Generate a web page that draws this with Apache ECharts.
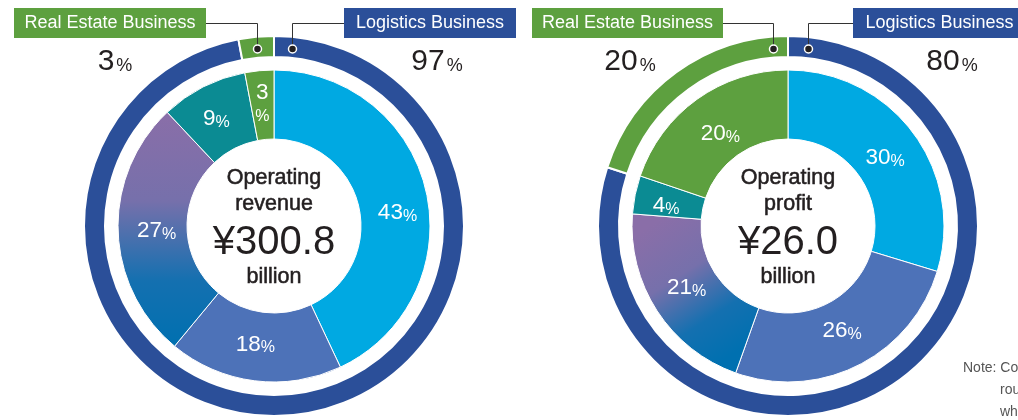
<!DOCTYPE html>
<html>
<head>
<meta charset="utf-8">
<script src="https://cdn.jsdelivr.net/npm/echarts@6/dist/echarts.min.js"></script>
<style>
  html, body { margin: 0; padding: 0; background: #ffffff; }
  #chart { width: 1018px; height: 420px; }
</style>
</head>
<body>
<div id="chart"></div>
<script>
// ---- data -------------------------------------------------------------
const segmentNames = ['Logistics Business', 'Real Estate Business'];
const revenueSegmentShare = [97, 3];     // outer ring, operating revenue (%)
const profitSegmentShare = [80, 20];     // outer ring, operating profit (%)
const revenueBreakdown = [43, 18, 27, 9, 3];   // inner donut, operating revenue (%)
const profitBreakdown = [30, 26, 21, 4, 20];   // inner donut, operating profit (%)
const centerCaptions = [['Operating', 'revenue'], ['Operating', 'profit']];
const centerTotals = ['¥300.8', '¥26.0'];
const centerUnit = 'billion';
const noteLines = ['Note: Composition ratios are', 'rounded to the nearest', 'whole number.'];

// ---- styling ----------------------------------------------------------
const FONT = '"Liberation Sans", Arial, Helvetica, sans-serif';
const INK = '#231f20';
const NAVY = '#2b4f99';
const GREEN = '#5da03f';
const SKY = '#00a9e2';
const BLUE = '#4d72b8';
const TEAL = '#0b8b93';

const charts = [
  {
    center: [274, 226],
    ring: revenueSegmentShare,
    inner: revenueBreakdown,
    gradient: [0, 0, 0, 1],
    labelNudge: [[2, 15], [-3, -4], [7, 2], [-1, 5], [0, 2]],
    greenBox: [14, 206], blueBox: [344, 516],
    greenDot: 257, blueDot: 292,
    pctX: [115, 437]
  },
  {
    center: [788, 226],
    ring: profitSegmentShare,
    inner: profitBreakdown,
    gradient: [0.1, 0.1, 0.75, 0.9],
    labelNudge: [[-3, 7], [-2, -5], [3, -5], [0, 6], [5, 10]],
    greenBox: [532, 723], blueBox: [853, 1026],
    greenDot: 773, blueDot: 808,
    pctX: [630, 952]
  }
];

const RING = [169, 190];
const DONUT = [87, 156];

function mixedSlice(g) {
  return new echarts.graphic.LinearGradient(g[0], g[1], g[2], g[3], [
    { offset: 0, color: '#8a6ea8' },
    { offset: 0.38, color: '#7670ab' },
    { offset: 0.72, color: '#1470b0' },
    { offset: 1, color: '#0070b0' }
  ]);
}

const series = [];
const graphic = [];

charts.forEach((c, k) => {
  // outer ring: segment shares
  series.push({
    type: 'pie',
    center: c.center,
    radius: RING,
    startAngle: 90,
    clockwise: true,
    silent: true,
    label: { show: false },
    labelLine: { show: false },
    itemStyle: { borderColor: '#ffffff', borderWidth: 2 },
    data: c.ring.map((v, i) => ({
      name: segmentNames[i],
      value: v,
      itemStyle: { color: i === 0 ? NAVY : GREEN }
    }))
  });

  // inner donut: business breakdown
  const sum = c.inner.reduce((a, b) => a + b, 0);
  const colors = [SKY, BLUE, mixedSlice(c.gradient), TEAL, GREEN];
  series.push({
    type: 'pie',
    center: c.center,
    radius: DONUT,
    startAngle: 90,
    clockwise: true,
    silent: true,
    avoidLabelOverlap: false,
    itemStyle: { borderColor: '#ffffff', borderWidth: 1 },
    label: {
      show: true,
      position: 'inside',
      formatter: p => {
        const narrow = p.value / sum * 360 < 12;
        return '{n|' + p.value + '}' + (narrow ? '\n' : '') + '{p|%}';
      },
      rich: {
        n: { fontFamily: FONT, fontSize: 22.5, color: '#ffffff', lineHeight: 21, verticalAlign: 'bottom' },
        p: { fontFamily: FONT, fontSize: 16, color: '#ffffff', lineHeight: 21, verticalAlign: 'bottom' }
      }
    },
    labelLine: { show: false },
    data: c.inner.map((v, i) => ({
      value: v,
      itemStyle: { color: colors[i] },
      label: { offset: c.labelNudge[i] }
    }))
  });

  const cx = c.center[0];

  // centre caption
  const capStyle = t => ({ text: t, font: '21.5px ' + FONT, fill: INK, stroke: INK, lineWidth: 0.55, align: 'center', verticalAlign: 'middle' });
  graphic.push(
    { type: 'text', x: cx, y: 178, style: capStyle(centerCaptions[k][0]) },
    { type: 'text', x: cx, y: 204, style: capStyle(centerCaptions[k][1]) },
    { type: 'text', x: cx, y: 243, style: { text: centerTotals[k], font: '40px ' + FONT, fill: INK, align: 'center', verticalAlign: 'middle' } },
    { type: 'text', x: cx, y: 277, style: capStyle(centerUnit) }
  );

  // segment share figures above the ring
  const shareRich = {
    n: { fontFamily: FONT, fontSize: 30, fill: INK, verticalAlign: 'bottom' },
    p: { fontFamily: FONT, fontSize: 18, fill: INK, verticalAlign: 'bottom', padding: [0, 0, 2, 2] }
  };
  graphic.push(
    { type: 'text', x: c.pctX[0], y: 62, style: { text: '{n|' + c.ring[1] + '}{p|%}', rich: shareRich, align: 'center', verticalAlign: 'middle' } },
    { type: 'text', x: c.pctX[1], y: 62, style: { text: '{n|' + c.ring[0] + '}{p|%}', rich: shareRich, align: 'center', verticalAlign: 'middle' } }
  );

  // segment tags with leader lines
  const boxes = [
    { range: c.greenBox, color: GREEN, label: segmentNames[1], dot: c.greenDot, from: c.greenBox[1] },
    { range: c.blueBox, color: NAVY, label: segmentNames[0], dot: c.blueDot, from: c.blueBox[0] }
  ];
  boxes.forEach(b => {
    graphic.push(
      { type: 'polyline', shape: { points: [[b.from, 23.5], [b.dot + 0.5, 23.5], [b.dot + 0.5, 49]] }, style: { stroke: '#333333', lineWidth: 1, fill: null }, z: 10 },
      { type: 'rect', shape: { x: b.range[0], y: 8, width: b.range[1] - b.range[0], height: 30 }, style: { fill: b.color }, z: 10 },
      { type: 'text', x: (b.range[0] + b.range[1]) / 2, y: 23, style: { text: b.label, font: '18px ' + FONT, fill: '#ffffff', align: 'center', verticalAlign: 'middle' }, z: 11 },
      { type: 'circle', shape: { cx: b.dot + 0.5, cy: 49, r: 4 }, style: { fill: INK, stroke: '#ffffff', lineWidth: 1.5 }, z: 12 }
    );
  });
});

// footnote
noteLines.forEach((t, i) => {
  graphic.push({
    type: 'text',
    x: i === 0 ? 963 : 1000,
    y: 368 + i * 22,
    style: { text: t, font: '14px ' + FONT, fill: '#555555', align: 'left', verticalAlign: 'middle' }
  });
});

const chart = echarts.init(document.getElementById('chart'), null, { renderer: 'canvas' });
chart.setOption({
  animation: false,
  backgroundColor: '#ffffff',
  series: series,
  graphic: graphic
});
</script>
</body>
</html>
